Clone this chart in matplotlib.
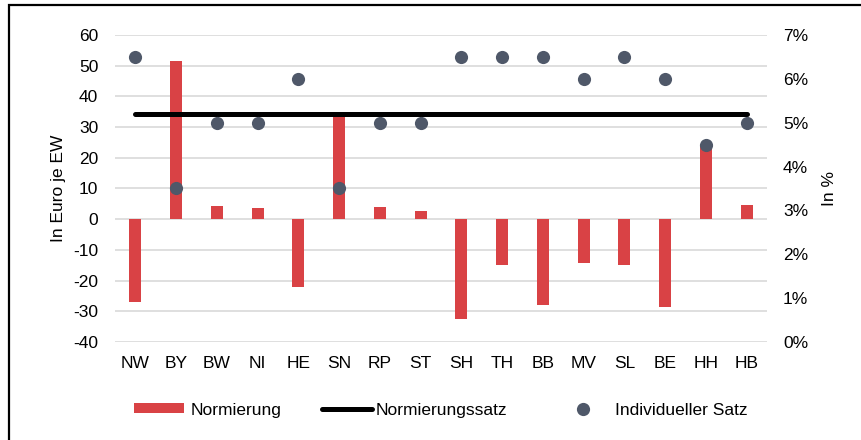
"""Normierung je Land: Abweichung in Euro je EW und individueller Satz."""

import matplotlib.pyplot as plt
from matplotlib.lines import Line2D
from matplotlib.patches import Patch, Rectangle
from matplotlib.ticker import FuncFormatter

plt.rcParams["font.family"] = ["Liberation Sans", "DejaVu Sans"]
plt.rcParams["font.size"] = 12.5
plt.rcParams["axes.unicode_minus"] = False

LAENDER = ["NW", "BY", "BW", "NI", "HE", "SN", "RP", "ST",
           "SH", "TH", "BB", "MV", "SL", "BE", "HH", "HB"]
NORMIERUNG = [-27.1, 51.6, 4.2, 3.7, -22.0, 34.3, 3.9, 2.6,
              -32.4, -15.0, -28.0, -14.3, -15.0, -28.6, 24.2, 4.6]
INDIVIDUELLER_SATZ = [6.5, 3.5, 5.0, 5.0, 6.0, 3.5, 5.0, 5.0,
                      6.5, 6.5, 6.5, 6.0, 6.5, 6.0, 4.5, 5.0]
NORMIERUNGSSATZ = 5.2

BAR_COLOR = "#d94245"
DOT_COLOR = "#4f5869"
GRID_COLOR = "#d9d9d9"

fig = plt.figure(figsize=(8.62, 4.4), dpi=100)
ax = fig.add_axes([0.1334, 0.2227, 0.7564, 0.6978])
ax2 = ax.twinx()

x = list(range(len(LAENDER)))
ax.bar(x, NORMIERUNG, width=0.3, color=BAR_COLOR, zorder=2)

ax2.plot(x, [NORMIERUNGSSATZ] * len(x), color="black", linewidth=3.6,
         solid_capstyle="round", zorder=3)
ax2.scatter(x, INDIVIDUELLER_SATZ, s=90, color=DOT_COLOR, zorder=4,
            linewidths=0)

ax.set_xlim(-0.5, len(x) - 0.5)
ax.set_ylim(-40, 60)
ax.set_yticks(range(-40, 61, 10))
ax2.set_ylim(0, 7)
ax2.set_yticks(range(0, 8))
ax2.yaxis.set_major_formatter(FuncFormatter(lambda v, _: f"{v:.0f}%"))

ax.set_xticks(x)
ax.set_xticklabels(LAENDER)
ax.grid(axis="y", color=GRID_COLOR, linewidth=1.2, zorder=0)
ax.set_axisbelow(True)

for a in (ax, ax2):
    for spine in a.spines.values():
        spine.set_visible(False)
    a.tick_params(length=0)
ax.tick_params(axis="y", pad=12)
ax.tick_params(axis="x", pad=10)
ax2.tick_params(axis="y", pad=11.5)

ax.set_ylabel("In Euro je EW", labelpad=5)
ax2.set_ylabel("In %", labelpad=10)

# one legend per entry so each sits where the original puts it
legend_entries = [
    (Patch(facecolor=BAR_COLOR, label="Normierung"), 134, 0.35),
    (Line2D([], [], color="black", linewidth=3.6, solid_capstyle="round",
            label="Normierungssatz"), 322, 0.2),
    (Line2D([], [], color=DOT_COLOR, marker="o", linestyle="none",
            markersize=9.5, markeredgewidth=0, label="Individueller Satz"),
     558, 0.4),
]
for handle, left_px, textpad in legend_entries:
    fig.legend(handles=[handle], loc="center left",
               bbox_to_anchor=(left_px / 862, 0.068), frameon=False,
               borderpad=0, borderaxespad=0, handlelength=2.9,
               handleheight=0.5, handletextpad=textpad)

fig.patches.append(Rectangle((9 / 862, -1), 2, 1 + (1 - 5 / 440),
                             transform=fig.transFigure, fill=False,
                             edgecolor="black", linewidth=1.6))

fig.savefig("out.png", dpi=100)
